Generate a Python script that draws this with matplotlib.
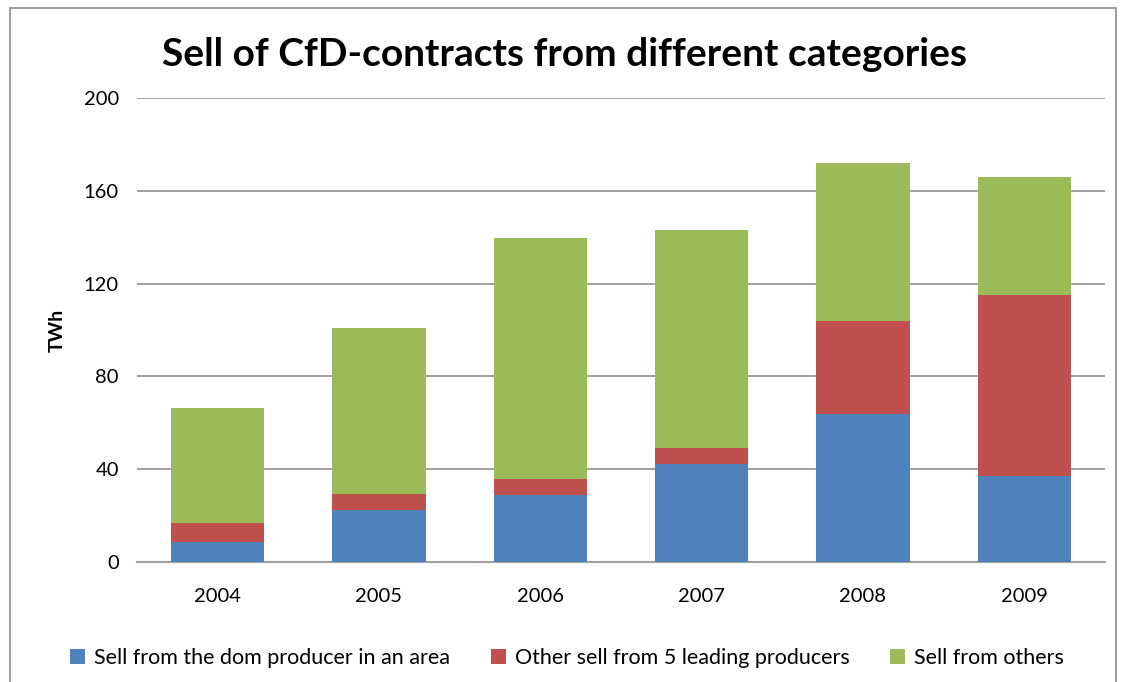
import matplotlib.pyplot as plt
import numpy as np
from matplotlib.patches import Rectangle

years = ['2004', '2005', '2006', '2007', '2008', '2009']
dom_producer = [8.8, 22.3, 29.0, 42.4, 63.9, 37.2]
leading_five = [8.2, 7.1, 6.9, 6.9, 39.9, 77.8]
others = [49.4, 71.3, 103.9, 93.6, 68.3, 51.1]

labels = ['Sell from the dom producer in an area',
          'Other sell from 5 leading producers',
          'Sell from others']
colors = ['#4F81BD', '#C0504D', '#9BBB59']

plt.rcParams['font.family'] = ['Lato', 'DejaVu Sans']

fig = plt.figure(figsize=(11.23, 6.82), dpi=100)
ax = fig.add_axes([137 / 1123, 1 - 562 / 682, 968 / 1123, 464 / 682])

x = np.arange(len(years))
w = 0.58
bottom = np.zeros(len(years))
for vals, lab, c in zip([dom_producer, leading_five, others], labels, colors):
    ax.bar(x, vals, w, bottom=bottom, color=c, label=lab, zorder=3)
    bottom += np.array(vals)

ax.set_xlim(-0.5, 5.5)
ax.set_ylim(0, 200)
ax.set_yticks(np.arange(0, 201, 40))
ax.set_xticks(x)
ax.set_xticklabels(years)
ax.tick_params(axis='both', length=0, labelsize=14.5)
ax.tick_params(axis='y', pad=13)
ax.tick_params(axis='x', pad=19)
ax.grid(axis='y', color='#868686', linewidth=1.1, zorder=0)
for s in ['top', 'right', 'left']:
    ax.spines[s].set_visible(False)
ax.spines['bottom'].set_color('#A0A0A0')
ax.spines['bottom'].set_linewidth(1.5)

ax.set_ylabel('TWh', fontsize=14, fontweight='bold', labelpad=13)

fig.text(0.503, 1 - 54 / 682, 'Sell of CfD-contracts from different categories',
         ha='center', va='center', fontsize=28, fontweight='bold')

fig.legend(loc='center', bbox_to_anchor=(0.505, 1 - 658 / 682), ncol=3,
           frameon=False, fontsize=15.5, handlelength=0.7, handleheight=0.7,
           handletextpad=0.4, columnspacing=1.9)

# chart outline
fig.patches.append(Rectangle((10 / 1123, -0.1), 1106 / 1123, 1.1 - 8 / 682,
                             transform=fig.transFigure, fill=False,
                             edgecolor='#8C8C8C', linewidth=1.2))

fig.savefig('out.png', dpi=100)
